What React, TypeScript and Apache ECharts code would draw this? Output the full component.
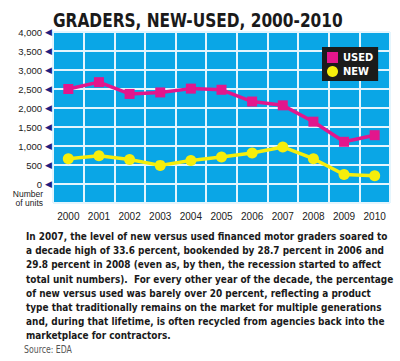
import React, { useEffect, useRef } from "react";
import * as echarts from "echarts";

const years = ["2000", "2001", "2002", "2003", "2004", "2005", "2006", "2007", "2008", "2009", "2010"];
const usedUnits = [2500, 2680, 2370, 2410, 2510, 2480, 2170, 2070, 1640, 1110, 1285];
const newUnits = [665, 745, 645, 490, 620, 710, 815, 975, 665, 250, 220];
const yTicks = { min: -500, max: 4000, step: 500 };

const titleText = "GRADERS, NEW-USED, 2000-2010";
const bodyLines = [
  "In 2007, the level of new versus used financed motor graders soared to",
  "a decade high of 33.6 percent, bookended by 28.7 percent in 2006 and",
  "29.8 percent in 2008 (even as, by then, the recession started to affect",
  "total unit numbers).  For every other year of the decade, the percentage",
  "of new versus used was barely over 20 percent, reflecting a product",
  "type that traditionally remains on the market for multiple generations",
  "and, during that lifetime, is often recycled from agencies back into the",
  "marketplace for contractors.",
];
const sourceText = "Source: EDA";

const COND = "'DejaVu Sans Condensed', 'DejaVu Sans', sans-serif";
const SANS = "'Liberation Sans', Arial, sans-serif";
const BLUE = "#0aa6e6";
const MAGENTA = "#e3168c";
const YELLOW = "#f6ee0c";

function measure(text: string, font: string): number {
  const c = document.createElement("canvas");
  const ctx = c.getContext("2d");
  if (!ctx) return text.length * 6;
  ctx.font = font;
  return ctx.measureText(text).width;
}

export default function App() {
  const ref = useRef<HTMLDivElement>(null);
  useEffect(() => {
    if (!ref.current) return;
    const chart = echarts.init(ref.current, null, { renderer: "svg" });

    const titleSize = 19.5;
    const titleScale = 290 / measure(titleText, `bold ${titleSize}px ${COND}`);
    const bodySize = 11.3;
    const bodyScale = 362 / measure(bodyLines[0], `bold ${bodySize}px ${COND}`);
    const srcSize = 10;
    const srcScale = 48 / measure(sourceText, `${srcSize}px ${COND}`);

    const graphics: any[] = [
      {
        type: "text",
        x: 53,
        y: 20,
        scaleX: titleScale,
        style: {
          text: titleText,
          fontFamily: COND,
          fontWeight: "bold",
          fontSize: titleSize,
          fill: "#1a1a1a",
          verticalAlign: "middle",
        },
      },
      {
        type: "text",
        x: 43,
        y: 198,
        style: {
          text: "Number\nof units",
          fontFamily: SANS,
          fontSize: 8.5,
          lineHeight: 9,
          fill: "#222",
          align: "right",
          verticalAlign: "middle",
        },
      },
    ];
    bodyLines.forEach((line, i) => {
      graphics.push({
        type: "text",
        x: 26,
        y: 236.5 + i * 14.1,
        scaleX: bodyScale,
        style: {
          text: line,
          fontFamily: COND,
          fontWeight: "bold",
          fontSize: bodySize,
          fill: "#1a1a1a",
          verticalAlign: "middle",
        },
      });
    });
    graphics.push({
      type: "text",
      x: 24,
      y: 349.5,
      scaleX: srcScale,
      style: {
        text: sourceText,
        fontFamily: COND,
        fontSize: srcSize,
        fill: "#555",
        verticalAlign: "middle",
      },
    });

    chart.setOption({
      animation: false,
      backgroundColor: "#ffffff",
      grid: {
        left: 53,
        right: 10,
        top: 32,
        bottom: 158,
        show: true,
        backgroundColor: BLUE,
        borderWidth: 0,
      },
      legend: {
        orient: "vertical",
        left: 322,
        top: 47,
        backgroundColor: "#1b1b1b",
        padding: [5, 5, 4, 5],
        itemGap: 3,
        itemWidth: 11,
        itemHeight: 11,
        textStyle: {
          color: "#ffffff",
          fontFamily: COND,
          fontWeight: "bold",
          fontSize: 11,
        },
        data: [
          { name: "USED", icon: "rect" },
          { name: "NEW", icon: "circle" },
        ],
      },
      xAxis: {
        type: "category",
        data: years,
        boundaryGap: true,
        axisLine: { show: false },
        axisTick: { show: false },
        axisLabel: {
          fontFamily: SANS,
          fontSize: 10,
          color: "#222",
          margin: 8,
        },
        splitLine: {
          show: true,
          interval: 0,
          lineStyle: { color: "#e4f5fd", width: 2 },
        },
      },
      yAxis: {
        type: "value",
        min: yTicks.min,
        max: yTicks.max,
        interval: yTicks.step,
        axisLine: { show: false },
        axisTick: { show: false },
        axisLabel: {
          margin: 1,
          formatter: (v: number) =>
            v < 0 ? "" : `{v|${v.toLocaleString("en-US")}}{t|◀}`,
          rich: {
            v: { fontFamily: SANS, fontSize: 9.5, color: "#222", padding: [0, 3, 0, 0] },
            t: { fontFamily: "DejaVu Sans", fontSize: 9, color: "#1d2080" },
          },
        },
        splitLine: {
          show: true,
          lineStyle: { color: "#e4f5fd", width: 2 },
        },
      },
      series: [
        {
          name: "USED",
          type: "line",
          data: usedUnits,
          symbol: "rect",
          symbolSize: 10,
          lineStyle: { color: MAGENTA, width: 3.5 },
          itemStyle: { color: MAGENTA },
          z: 3,
        },
        {
          name: "NEW",
          type: "line",
          data: newUnits,
          symbol: "circle",
          symbolSize: 11,
          lineStyle: { color: YELLOW, width: 3.5 },
          itemStyle: { color: YELLOW },
          z: 3,
        },
      ],
      graphic: graphics,
    });
    return () => chart.dispose();
  }, []);
  return (
    <div
      ref={ref}
      style={{ position: "absolute", left: 0, top: 0, width: 400, height: 361 }}
    />
  );
}
